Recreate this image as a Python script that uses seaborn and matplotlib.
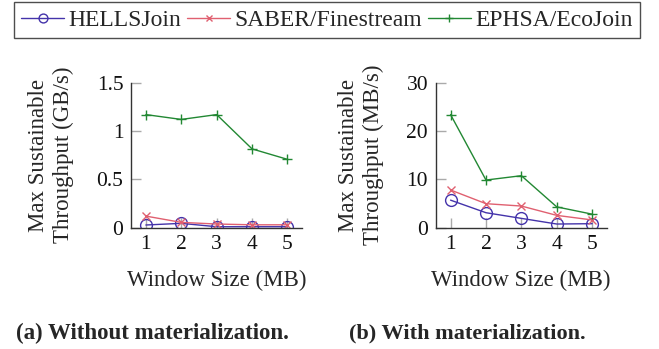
import numpy as np
import pandas as pd
import matplotlib
matplotlib.use("Agg")
import matplotlib.pyplot as plt
import seaborn as sns
from matplotlib.lines import Line2D

windows = [1, 2, 3, 4, 5]
series = ["HELLSJoin", "SABER/Finestream", "EPHSA/EcoJoin"]
no_mat_hells = [0.028, 0.045, 0.01, 0.01, 0.01]
no_mat_saber = [0.12, 0.055, 0.038, 0.03, 0.03]
no_mat_ephsa = [1.17, 1.12, 1.17, 0.815, 0.707]
mat_hells = [5.7, 3.1, 1.93, 0.76, 0.83]
mat_saber = [7.8, 4.97, 4.48, 2.55, 1.6]
mat_ephsa = [23.4, 9.86, 10.76, 4.3, 2.8]
colors = ["#4433AA", "#E06070", "#228833"]
markers = ["o", "x", "+"]
msizes = [8.5, 5.5, 7]

sns.set_style("ticks")
plt.rcParams["font.family"] = ["Liberation Serif", "DejaVu Serif"]

fig = plt.figure(figsize=(6.59, 3.49), dpi=100)
axA = fig.add_axes([131/659, 121.3/349, 171/659, 145/349])
axB = fig.add_axes([435.7/659, 121.3/349, 171/659, 145/349])

def draw(ax, data, ylim, yticks, yticklabels, ylabel):
    for name, vals, c, m, ms in zip(series, data, colors, markers, msizes):
        sns.lineplot(x=windows, y=vals, ax=ax, color=c, marker=m, markersize=ms,
                     markerfacecolor="none", markeredgecolor=c, markeredgewidth=1.0,
                     linewidth=1.0, legend=False)
    ax.set_xlim(0.58, 5.41)
    ax.set_ylim(*ylim)
    ax.set_xticks(windows)
    ax.set_xticklabels([str(w) for w in windows])
    ax.set_yticks(yticks)
    ax.set_yticklabels(yticklabels)
    ax.tick_params(direction="in", length=7.5, width=1.0, colors="#aaaaaa",
                   labelsize=15.5, labelcolor="#111111")
    ax.tick_params(axis="x", pad=5)
    ax.tick_params(axis="y", pad=5.5)
    for s in ["top", "right"]:
        ax.spines[s].set_visible(False)
    for s in ["left", "bottom"]:
        ax.spines[s].set_color("#333333")
        ax.spines[s].set_linewidth(1.0)
    ax.set_xlabel("Window Size (MB)", fontsize=16.5, labelpad=12)
    ax.set_ylabel(ylabel, fontsize=16.5, labelpad=16, linespacing=1.25)

draw(axA, [no_mat_hells, no_mat_saber, no_mat_ephsa], (0, 1.5),
     [0, 0.5, 1, 1.5], ["0", "0.5", "1", "1.5"], "Max Sustainable\nThroughput (GB/s)")
draw(axB, [mat_hells, mat_saber, mat_ephsa], (0, 30),
     [0, 10, 20, 30], ["0", "10", "20", "30"], "Max Sustainable\nThroughput (MB/s)")

handles = [Line2D([0], [0], color=c, marker=m, markersize=ms * 0.75, markerfacecolor="none",
                  markeredgecolor=c, linewidth=1.0) for c, m, ms in zip(colors, markers, msizes)]
leg = fig.legend(handles, series, loc="upper center", bbox_to_anchor=(327/659, 1.0),
                 ncol=3, frameon=True, fancybox=False, fontsize=17, handlelength=1.8,
                 handletextpad=0.2, columnspacing=0.25, borderpad=0.3, borderaxespad=0.1)
leg.get_frame().set_edgecolor("#222222")
leg.get_frame().set_linewidth(1.0)

fig.text(152.5/659, 1 - 333/349, "(a) Without materialization.", ha="center", va="center",
         fontsize=16.5, fontweight="bold")
fig.text(467.5/659, 1 - 333/349, "(b) With materialization.", ha="center", va="center",
         fontsize=16, fontweight="bold")

fig.savefig("out.png", dpi=100)
